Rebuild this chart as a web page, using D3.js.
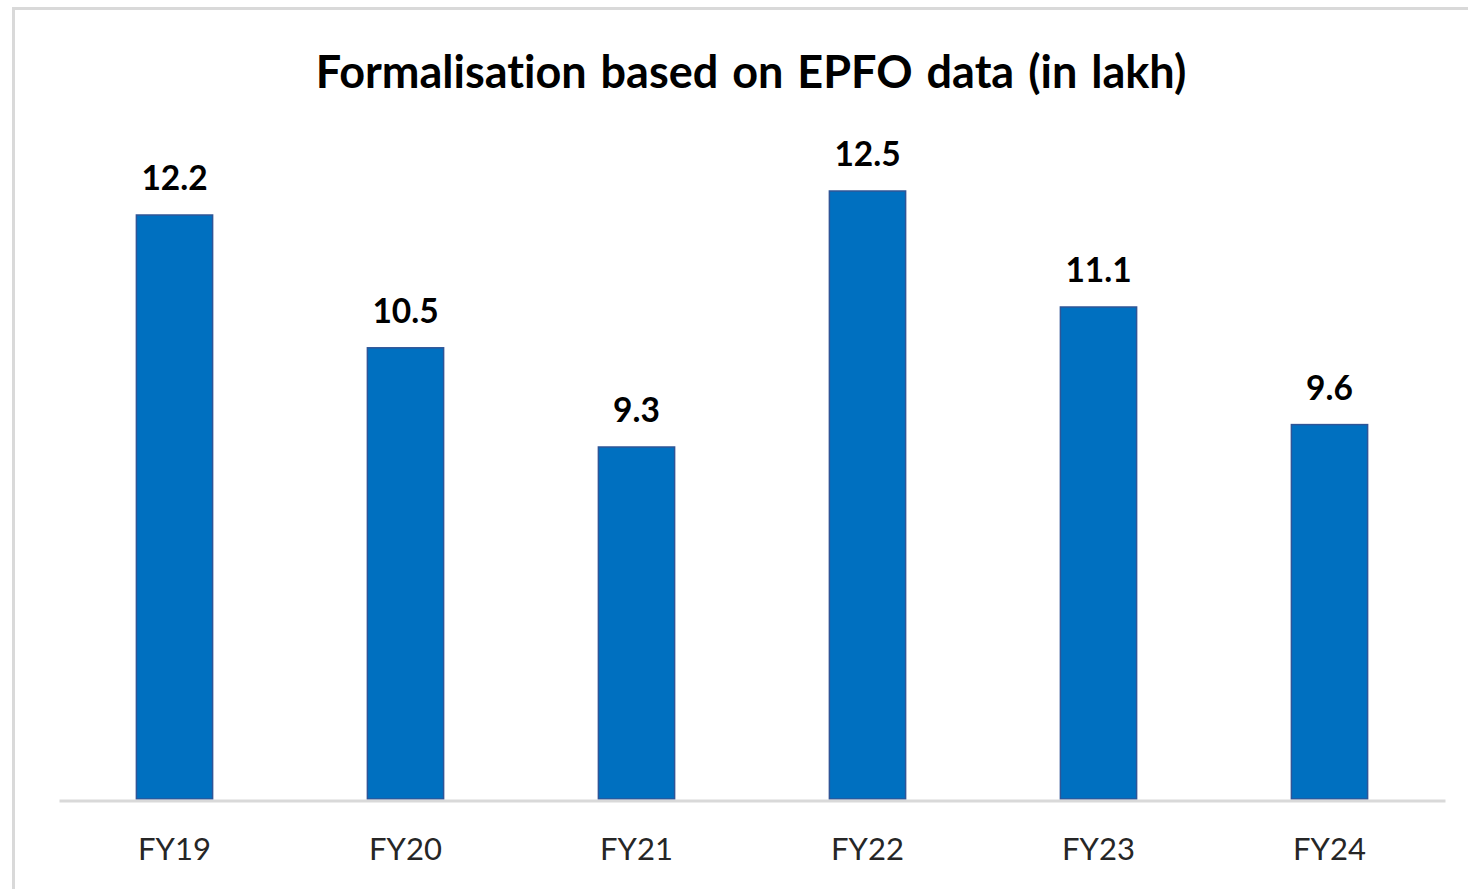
<!DOCTYPE html>
<html>
<head>
<meta charset="utf-8">
<script src="https://cdn.jsdelivr.net/npm/d3@7"></script>
<style>
  html, body { margin: 0; padding: 0; background: #ffffff; }
  svg { display: block; }
  text { font-variant-ligatures: none; font-feature-settings: "liga" 0; }
</style>
</head>
<body>
<svg id="chart" width="1468" height="889"></svg>
<script>
const title = "Formalisation based on EPFO data (in lakh)";
const categories = ["FY19", "FY20", "FY21", "FY22", "FY23", "FY24"];
const values = [12.2, 10.54, 9.3, 12.5, 11.05, 9.58];
const valueLabels = ["12.2", "10.5", "9.3", "12.5", "11.1", "9.6"];
const yDomain = [4.9, 13];

const W = 1468, H = 889;
const plot = { left: 59, right: 1445, top: 151, bottom: 799 };

const svg = d3.select("#chart");

// chart area border
svg.append("rect")
  .attr("x", 13.5).attr("y", 8.5)
  .attr("width", W + 20).attr("height", H + 20)
  .attr("fill", "#ffffff")
  .attr("stroke", "#d9d9d9").attr("stroke-width", 3);

const x = d3.scaleBand()
  .domain(categories)
  .range([plot.left, plot.right])
  .paddingInner(0.67)
  .paddingOuter(0.335);

const y = d3.scaleLinear()
  .domain(yDomain)
  .range([plot.bottom, plot.top]);

const data = categories.map((c, i) => ({ c, v: values[i], label: valueLabels[i] }));

// title
svg.append("text")
  .attr("x", 751).attr("y", 88)
  .attr("text-anchor", "middle")
  .attr("font-family", "Lato, 'Open Sans', sans-serif")
  .attr("font-weight", "bold")
  .attr("font-size", 45)
  .attr("word-spacing", 3)
  .attr("fill", "#000000")
  .text(title);

// bars
svg.append("g").selectAll("rect")
  .data(data).join("rect")
  .attr("x", d => x(d.c))
  .attr("y", d => y(d.v))
  .attr("width", x.bandwidth())
  .attr("height", d => y(yDomain[0]) - y(d.v))
  .attr("fill", "#0070c0")
  .attr("stroke", "#2f5597")
  .attr("stroke-width", 1.5);

// value labels
svg.append("g").selectAll("text")
  .data(data).join("text")
  .attr("x", d => x(d.c) + x.bandwidth() / 2)
  .attr("y", d => y(d.v) - 25)
  .attr("text-anchor", "middle")
  .attr("font-family", "Lato, 'Open Sans', sans-serif")
  .attr("font-weight", "bold")
  .attr("font-size", 33.5)
  .attr("fill", "#000000")
  .text(d => d.label);

// x axis
const xAxis = d3.axisBottom(x).tickSize(0).tickPadding(0);
const gx = svg.append("g")
  .attr("transform", `translate(0,${plot.bottom + 1.5})`)
  .call(xAxis);
gx.select(".domain")
  .attr("stroke", "#d9d9d9").attr("stroke-width", 3);
gx.selectAll(".tick text")
  .attr("dy", 0)
  .attr("y", 59)
  .attr("font-family", "Lato, 'Open Sans', sans-serif")
  .attr("font-size", 31)
  .attr("fill", "#262626");
</script>
</body>
</html>
